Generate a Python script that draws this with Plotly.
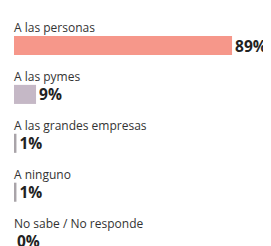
import plotly.graph_objects as go

categories = ["A las personas", "A las pymes", "A las grandes empresas", "A ninguno", "No sabe / No responde"]
values = [89, 9, 1, 1, 0]
colors = ["#F6978A", "#C5B8C6", "#A9A4A9", "#A9A4A9", "#A9A4A9"]

fig = go.Figure(go.Bar(
    x=values, y=categories, orientation="h",
    marker=dict(color=colors, line=dict(width=0)),
    width=0.39,
    text=[f"{v}%" for v in values],
    textposition="outside",
    constraintext="none",
    textfont=dict(family="Open Sans", size=15.5, color="#222222", weight="bold"),
    cliponaxis=False,
    hoverinfo="skip",
))

for c in categories:
    fig.add_annotation(x=0, y=c, xref="x", yref="y", text=c, showarrow=False,
                       xanchor="left", yanchor="middle", yshift=18, xshift=-2,
                       font=dict(family="Open Sans", size=12, color="#333333"))

fig.update_layout(
    width=263, height=238,
    margin=dict(l=6, r=12, t=0, b=0),
    paper_bgcolor="white", plot_bgcolor="white",
    showlegend=False,
    xaxis=dict(range=[0, 100], visible=False, fixedrange=True),
    yaxis=dict(range=[4.1, -0.767], visible=False, fixedrange=True),
    uniformtext=dict(mode=False),
)

fig.write_html("out.html", config={"displayModeBar": False})
